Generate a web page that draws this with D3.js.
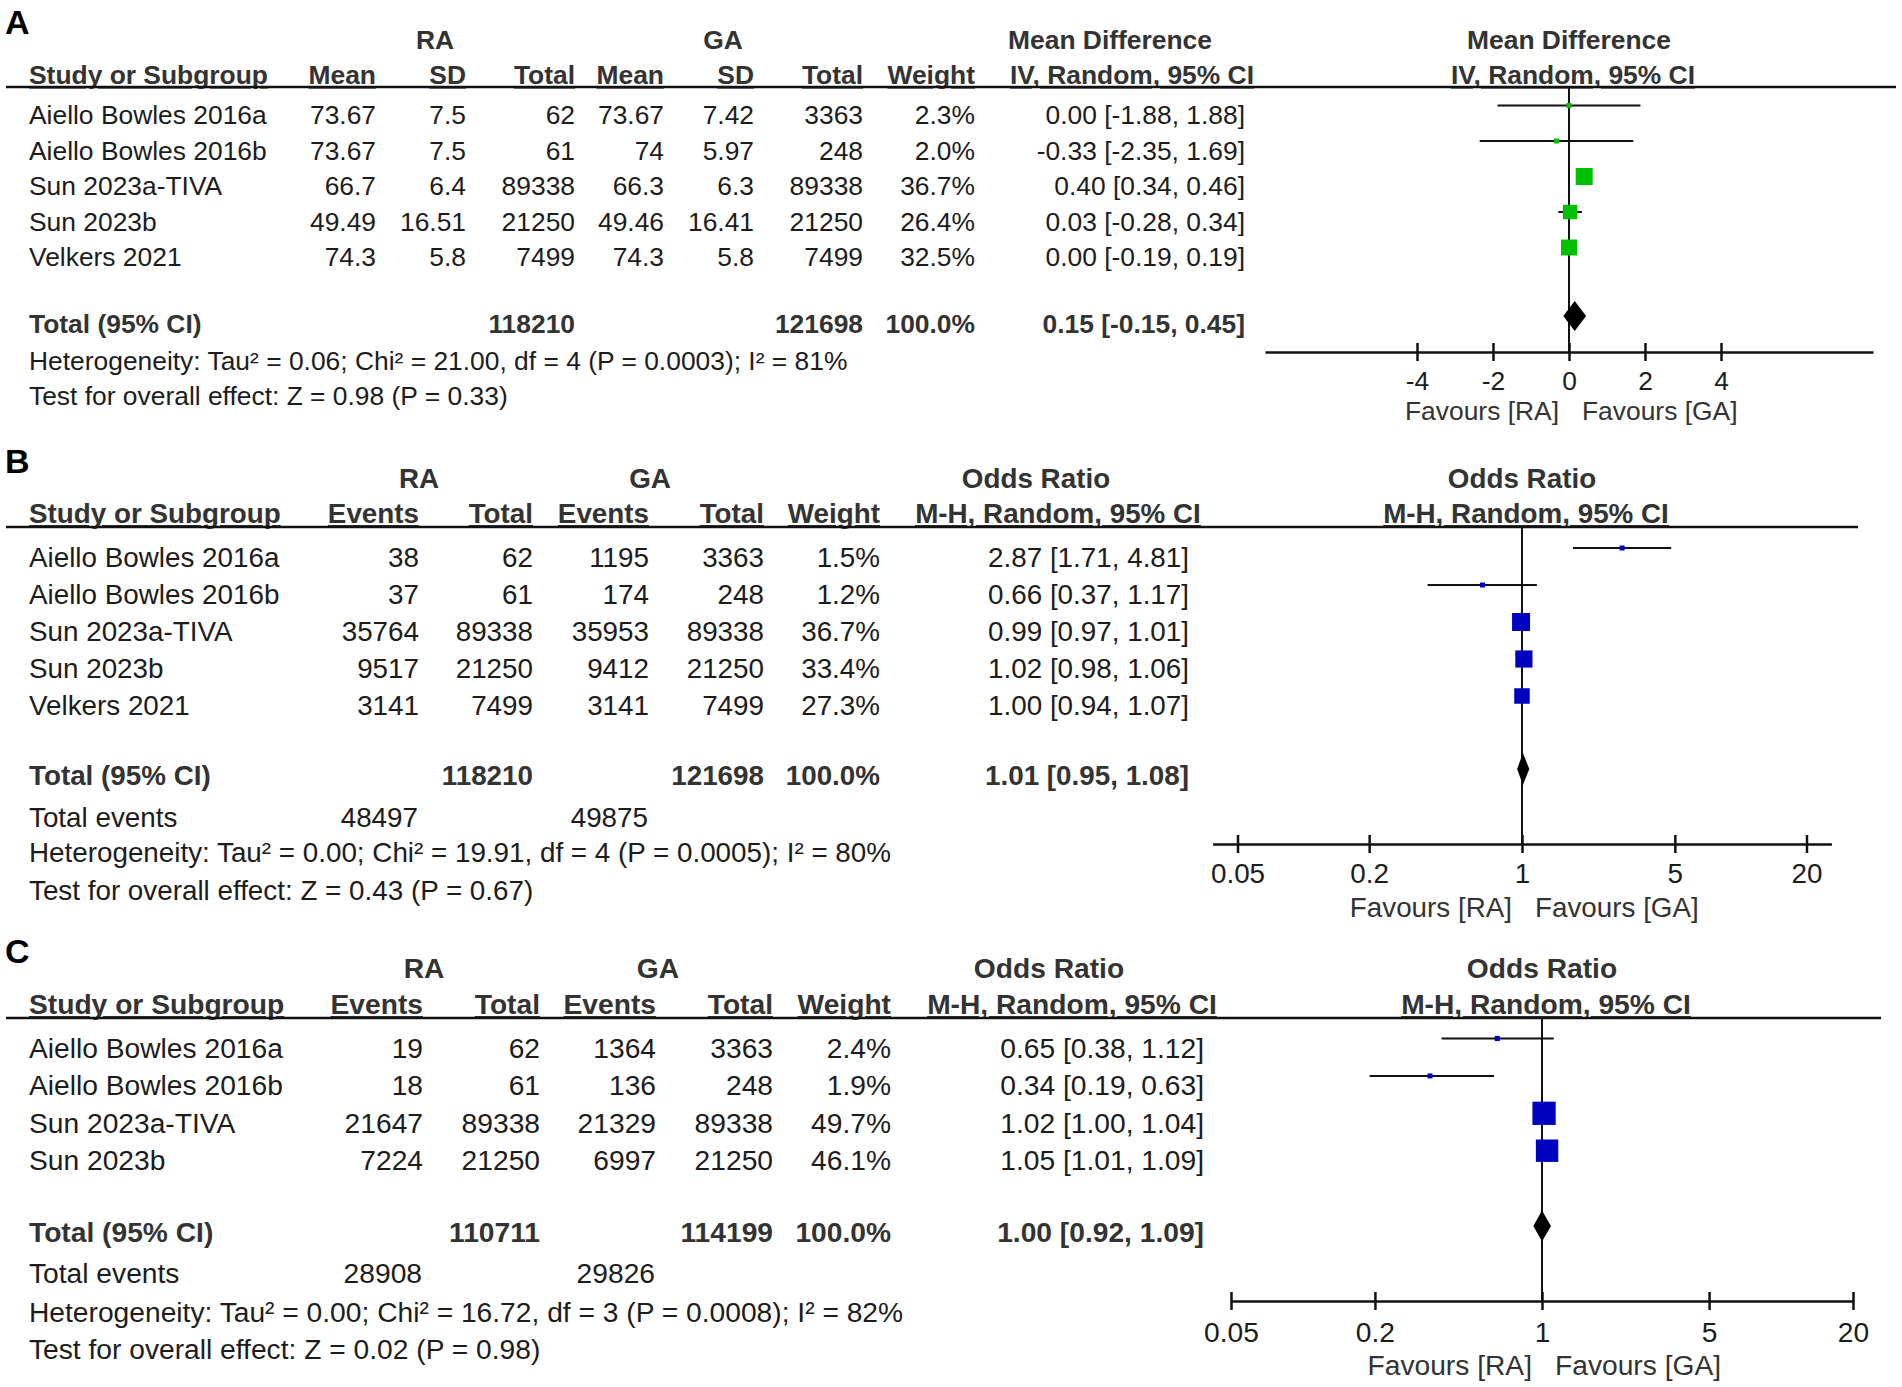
<!DOCTYPE html>
<html><head><meta charset="utf-8">
<script src="https://cdn.jsdelivr.net/npm/d3@7"></script>
<style>
html,body{margin:0;padding:0;background:#fff;}
svg text{font-family:"Liberation Sans", Arial, sans-serif;}
</style></head><body>
<svg id="c" width="1902" height="1387"></svg>
<script>
// ---------- Panel A data (Mean Difference) ----------
const studiesA = ["Aiello Bowles 2016a","Aiello Bowles 2016b","Sun 2023a-TIVA","Sun 2023b","Velkers 2021"];
const raMeanA = [73.67, 73.67, 66.7, 49.49, 74.3];
const raSdA = [7.5, 7.5, 6.4, 16.51, 5.8];
const raTotalA = [62, 61, 89338, 21250, 7499];
const gaMeanA = [73.67, 74, 66.3, 49.46, 74.3];
const gaSdA = [7.42, 5.97, 6.3, 16.41, 5.8];
const gaTotalA = [3363, 248, 89338, 21250, 7499];
const weightA = [2.3, 2.0, 36.7, 26.4, 32.5];
const estA = [0.00, -0.33, 0.40, 0.03, 0.00];
const lowA = [-1.88, -2.35, 0.34, -0.28, -0.19];
const highA = [1.88, 1.69, 0.46, 0.34, 0.19];
const pooledA = [0.15, -0.15, 0.45];
const sumTotalsA = [118210, 121698];
const ticksA = [-4, -2, 0, 2, 4];
const statsA = ["Heterogeneity: Tau² = 0.06; Chi² = 21.00, df = 4 (P = 0.0003); I² = 81%",
                "Test for overall effect: Z = 0.98 (P = 0.33)"];

// ---------- Panel B data (Odds Ratio) ----------
const studiesB = ["Aiello Bowles 2016a","Aiello Bowles 2016b","Sun 2023a-TIVA","Sun 2023b","Velkers 2021"];
const raEventsB = [38, 37, 35764, 9517, 3141];
const raTotalB = [62, 61, 89338, 21250, 7499];
const gaEventsB = [1195, 174, 35953, 9412, 3141];
const gaTotalB = [3363, 248, 89338, 21250, 7499];
const weightB = [1.5, 1.2, 36.7, 33.4, 27.3];
const estB = [2.87, 0.66, 0.99, 1.02, 1.00];
const lowB = [1.71, 0.37, 0.97, 0.98, 0.94];
const highB = [4.81, 1.17, 1.01, 1.06, 1.07];
const pooledB = [1.01, 0.95, 1.08];
const sumTotalsB = [118210, 121698];
const sumEventsB = [48497, 49875];
const ticksB = [0.05, 0.2, 1, 5, 20];
const statsB = ["Heterogeneity: Tau² = 0.00; Chi² = 19.91, df = 4 (P = 0.0005); I² = 80%",
                "Test for overall effect: Z = 0.43 (P = 0.67)"];

// ---------- Panel C data (Odds Ratio) ----------
const studiesC = ["Aiello Bowles 2016a","Aiello Bowles 2016b","Sun 2023a-TIVA","Sun 2023b"];
const raEventsC = [19, 18, 21647, 7224];
const raTotalC = [62, 61, 89338, 21250];
const gaEventsC = [1364, 136, 21329, 6997];
const gaTotalC = [3363, 248, 89338, 21250];
const weightC = [2.4, 1.9, 49.7, 46.1];
const estC = [0.65, 0.34, 1.02, 1.05];
const lowC = [0.38, 0.19, 1.00, 1.01];
const highC = [1.12, 0.63, 1.04, 1.09];
const pooledC = [1.00, 0.92, 1.09];
const sumTotalsC = [110711, 114199];
const sumEventsC = [28908, 29826];
const ticksC = [0.05, 0.2, 1, 5, 20];
const statsC = ["Heterogeneity: Tau² = 0.00; Chi² = 16.72, df = 3 (P = 0.0008); I² = 82%",
                "Test for overall effect: Z = 0.02 (P = 0.98)"];

const svg = d3.select("#c");
const pct = d => d.toFixed(1) + "%";
const ci = (e, l, h) => e.toFixed(2) + " [" + l.toFixed(2) + ", " + h.toFixed(2) + "]";

function txt(g, x, y, s, fs, o = {}) {
  return g.append("text").attr("x", x).attr("y", y).text(s)
    .attr("text-anchor", o.anchor || "start")
    .attr("font-size", fs)
    .attr("font-weight", o.bold ? "bold" : "normal")
    .attr("fill", o.bold ? "#333" : "#1c1c1c")
    .attr("text-decoration", o.u ? "underline" : null);
}

function panel(P) {
  const L = P.layout, fs = L.fs;
  const g = svg.append("g");
  const rowY = d3.scaleLinear().domain([0, 1]).range([L.row0, L.row0 + L.rowStep]);
  const x = (L.log ? d3.scaleLog() : d3.scaleLinear()).domain(L.xDomain).range(L.xRange);
  const sqS = d3.scaleSqrt().domain([0, 100]).range(L.sq);
  const sq = w => Math.max(5, sqS(w));

  // panel letter
  g.append("text").attr("x", 5).attr("y", L.labelY).text(P.letter)
    .attr("font-size", 34).attr("font-weight", "bold").attr("fill", "#000");

  // group headers
  P.groups.forEach(([s, cx]) => txt(g, cx, L.grpY, s, fs, {bold: true, anchor: "middle"}));
  txt(g, L.effHdrX[0], L.grpY, P.effName, fs, {bold: true, anchor: "middle"});
  txt(g, L.effHdrX[1], L.hdrY, P.effMethod, fs, {bold: true, anchor: "middle", u: true});
  txt(g, x(L.nullV), L.grpY, P.effName, fs, {bold: true, anchor: "middle"});
  txt(g, x(L.nullV) + 4, L.hdrY, P.effMethod, fs, {bold: true, anchor: "middle", u: true});

  // header row
  txt(g, 29, L.hdrY, "Study or Subgroup", fs, {bold: true, u: true});
  P.cols.forEach(c => txt(g, c.x, L.hdrY, c.h, fs, {bold: true, anchor: "end", u: true}));
  g.append("line").attr("x1", 6).attr("x2", L.lineX2).attr("y1", L.lineY).attr("y2", L.lineY)
    .attr("stroke", "#111").attr("stroke-width", 2.5);

  // study rows
  P.studies.forEach((s, i) => {
    const y = rowY(i);
    txt(g, 29, y, s, fs);
    P.cols.forEach(c => txt(g, c.x, y, c.f ? c.f(c.v[i]) : String(c.v[i]), fs, {anchor: "end"}));
    txt(g, L.ciRight, y, ci(P.est[i], P.lo[i], P.hi[i]), fs, {anchor: "end"});
  });

  // total row
  txt(g, 29, L.totalY, "Total (95% CI)", fs, {bold: true});
  P.cols.forEach(c => { if (c.tot !== undefined) txt(g, c.x, L.totalY, c.tot, fs, {bold: true, anchor: "end"}); });
  txt(g, L.ciRight, L.totalY, ci(P.pooled[0], P.pooled[1], P.pooled[2]), fs, {bold: true, anchor: "end"});

  if (P.events) {
    txt(g, 29, L.eventsY, "Total events", fs);
    P.events.forEach(([v, cx]) => txt(g, cx, L.eventsY, String(v), fs, {anchor: "end"}));
  }
  txt(g, 29, L.hetY, P.stats[0], fs);
  txt(g, 29, L.testY, P.stats[1], fs);

  // forest plot
  g.append("line").attr("x1", x(L.nullV)).attr("x2", x(L.nullV))
    .attr("y1", L.lineY).attr("y2", L.axisY).attr("stroke", "#111").attr("stroke-width", 2);

  const axis = d3.axisBottom(x).tickValues(P.ticks).tickSizeInner(8).tickSizeOuter(0)
    .tickFormat(d => String(d));
  const ax = g.append("g").attr("transform", `translate(0,${L.axisY})`).call(axis);
  ax.select(".domain").attr("stroke", "#111").attr("stroke-width", 2.5);
  ax.selectAll(".tick line").attr("y1", -9).attr("y2", 9).attr("stroke", "#111").attr("stroke-width", 2.5);
  ax.selectAll(".tick text").attr("y", L.tickY - L.axisY).attr("dy", 0)
    .attr("font-size", fs).attr("fill", "#1c1c1c").attr("font-family", '"Liberation Sans", Arial, sans-serif');

  txt(g, x(L.nullV) - 10, L.favY, "Favours [RA]", fs, {anchor: "end"}).attr("fill", "#333");
  txt(g, x(L.nullV) + 13, L.favY, "Favours [GA]", fs).attr("fill", "#333");

  const idx = d3.range(P.studies.length);
  g.selectAll(".ci").data(idx).join("line")
    .attr("x1", i => x(P.lo[i])).attr("x2", i => x(P.hi[i]))
    .attr("y1", i => rowY(i) + L.markOff).attr("y2", i => rowY(i) + L.markOff)
    .attr("stroke", "#111").attr("stroke-width", 2);
  g.selectAll(".sq").data(idx).join("rect")
    .attr("x", i => x(P.est[i]) - sq(P.wt[i]) / 2)
    .attr("y", i => rowY(i) + L.markOff - sq(P.wt[i]) / 2)
    .attr("width", i => sq(P.wt[i])).attr("height", i => sq(P.wt[i]))
    .attr("fill", P.color);

  const dy = L.totalY + L.diaOff;
  g.append("path").attr("d",
    `M${x(P.pooled[1])},${dy} L${x(P.pooled[0])},${dy - L.diaHalf} L${x(P.pooled[2])},${dy} L${x(P.pooled[0])},${dy + L.diaHalf} Z`)
    .attr("fill", "#000");
}

panel({
  letter: "A", effName: "Mean Difference", effMethod: "IV, Random, 95% CI",
  studies: studiesA, est: estA, lo: lowA, hi: highA, wt: weightA, pooled: pooledA,
  ticks: ticksA, stats: statsA, color: "#00c000",
  groups: [["RA", 435], ["GA", 723]],
  cols: [
    {h: "Mean", v: raMeanA, x: 376},
    {h: "SD", v: raSdA, x: 466},
    {h: "Total", v: raTotalA, x: 575, tot: String(sumTotalsA[0])},
    {h: "Mean", v: gaMeanA, x: 664},
    {h: "SD", v: gaSdA, x: 754},
    {h: "Total", v: gaTotalA, x: 863, tot: String(sumTotalsA[1])},
    {h: "Weight", v: weightA, x: 975, f: pct, tot: "100.0%"}
  ],
  layout: {fs: 26.4, labelY: 34, grpY: 49, hdrY: 84, lineY: 87, lineX2: 1896,
    row0: 124, rowStep: 35.5, totalY: 333, hetY: 370, testY: 405,
    effHdrX: [1110, 1132], ciRight: 1245,
    axisY: 352, tickY: 390, favY: 420, markOff: -18.5, diaOff: -17, diaHalf: 15,
    xDomain: [-8, 8], xRange: [1265, 1873], nullV: 0, log: false, sq: [0, 28]}
});

panel({
  letter: "B", effName: "Odds Ratio", effMethod: "M-H, Random, 95% CI",
  studies: studiesB, est: estB, lo: lowB, hi: highB, wt: weightB, pooled: pooledB,
  ticks: ticksB, stats: statsB, color: "#0000c0",
  groups: [["RA", 419], ["GA", 650]],
  events: [[sumEventsB[0], 418], [sumEventsB[1], 648]],
  cols: [
    {h: "Events", v: raEventsB, x: 419},
    {h: "Total", v: raTotalB, x: 533, tot: String(sumTotalsB[0])},
    {h: "Events", v: gaEventsB, x: 649},
    {h: "Total", v: gaTotalB, x: 764, tot: String(sumTotalsB[1])},
    {h: "Weight", v: weightB, x: 880, f: pct, tot: "100.0%"}
  ],
  layout: {fs: 27.8, labelY: 473, grpY: 488, hdrY: 523, lineY: 527, lineX2: 1858,
    row0: 567, rowStep: 37, totalY: 785, eventsY: 827, hetY: 862, testY: 900,
    effHdrX: [1036, 1058], ciRight: 1189,
    axisY: 844, tickY: 883, favY: 917, markOff: -19, diaOff: -16, diaHalf: 16,
    xDomain: [1 / 26, 26], xRange: [1212.6, 1831.4], nullV: 1, log: true, sq: [0, 29.7]}
});

panel({
  letter: "C", effName: "Odds Ratio", effMethod: "M-H, Random, 95% CI",
  studies: studiesC, est: estC, lo: lowC, hi: highC, wt: weightC, pooled: pooledC,
  ticks: ticksC, stats: statsC, color: "#0000c0",
  groups: [["RA", 424], ["GA", 658]],
  events: [[sumEventsC[0], 422], [sumEventsC[1], 655]],
  cols: [
    {h: "Events", v: raEventsC, x: 423},
    {h: "Total", v: raTotalC, x: 540, tot: String(sumTotalsC[0])},
    {h: "Events", v: gaEventsC, x: 656},
    {h: "Total", v: gaTotalC, x: 773, tot: String(sumTotalsC[1])},
    {h: "Weight", v: weightC, x: 891, f: pct, tot: "100.0%"}
  ],
  layout: {fs: 28.2, labelY: 963, grpY: 978, hdrY: 1014, lineY: 1018, lineX2: 1881,
    row0: 1058, rowStep: 37.4, totalY: 1242, eventsY: 1283, hetY: 1322, testY: 1359,
    effHdrX: [1049, 1072], ciRight: 1204,
    axisY: 1301, tickY: 1342, favY: 1375, markOff: -19.5, diaOff: -16, diaHalf: 15.5,
    xDomain: [0.05, 20], xRange: [1231, 1853], nullV: 1, log: true, sq: [0, 33]}
});
</script>
</body></html>
